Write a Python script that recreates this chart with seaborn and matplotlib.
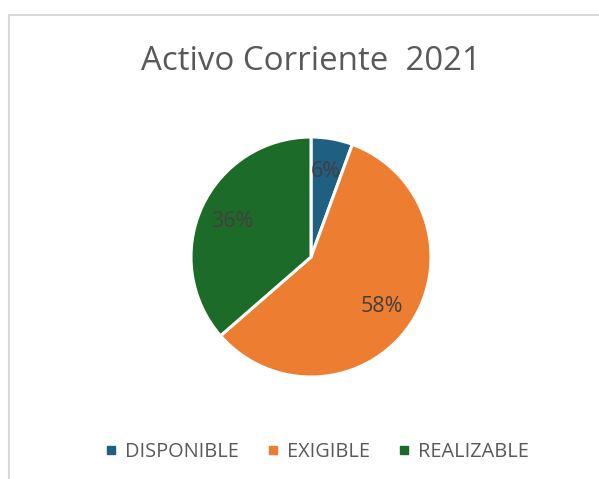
import matplotlib
matplotlib.use("Agg")
import matplotlib.pyplot as plt
import seaborn as sns
from matplotlib.patches import Rectangle

# data
categorias = ["DISPONIBLE", "EXIGIBLE", "REALIZABLE"]
valores = [5.6, 58.0, 36.4]
colores = ["#1F5F82", "#ED7D31", "#1D6B28"]
titulo = "Activo Corriente  2021"

sns.set_theme(style="white")
plt.rcParams['font.family'] = ['Open Sans', 'DejaVu Sans']

fig = plt.figure(figsize=(5.99, 4.79), dpi=100)
fig.patch.set_facecolor("white")

# chart frame (partially outside the picture)
fig.add_artist(Rectangle((9 / 599, -0.2), 1.2, 0.2 + (479 - 15) / 479,
                         transform=fig.transFigure, fill=False,
                         edgecolor="#D9D9D9", linewidth=1.5))

ax = fig.add_axes([191 / 599, 102 / 479, 240 / 599, 240 / 479])
wedges, texts, autotexts = ax.pie(
    valores, colors=colores, startangle=90, counterclock=False,
    autopct=lambda p: "%d%%" % round(p), pctdistance=0.72,
    wedgeprops={"edgecolor": "white", "linewidth": 2.2})
for t in autotexts:
    t.set_color("#404040")
    t.set_fontsize(15.5)
ax.set_xlim(-1, 1)
ax.set_ylim(-1, 1)
ax.set_aspect("equal")
ax.axis("off")

fig.text(311 / 599, 1 - 61 / 479, titulo, ha="center", va="center",
         fontsize=23.8, color="#595959")

handles = [plt.Line2D([], [], marker="s", linestyle="", markersize=6,
                      markerfacecolor=c, markeredgecolor=c) for c in colores]
fig.legend(handles, categorias, loc="center", bbox_to_anchor=(316 / 599, 1 - 452 / 479),
           ncol=3, frameon=False, fontsize=14.3, labelcolor="#595959",
           handletextpad=0.3, columnspacing=1.3, handlelength=0.8)

fig.savefig("out.png", dpi=100)
